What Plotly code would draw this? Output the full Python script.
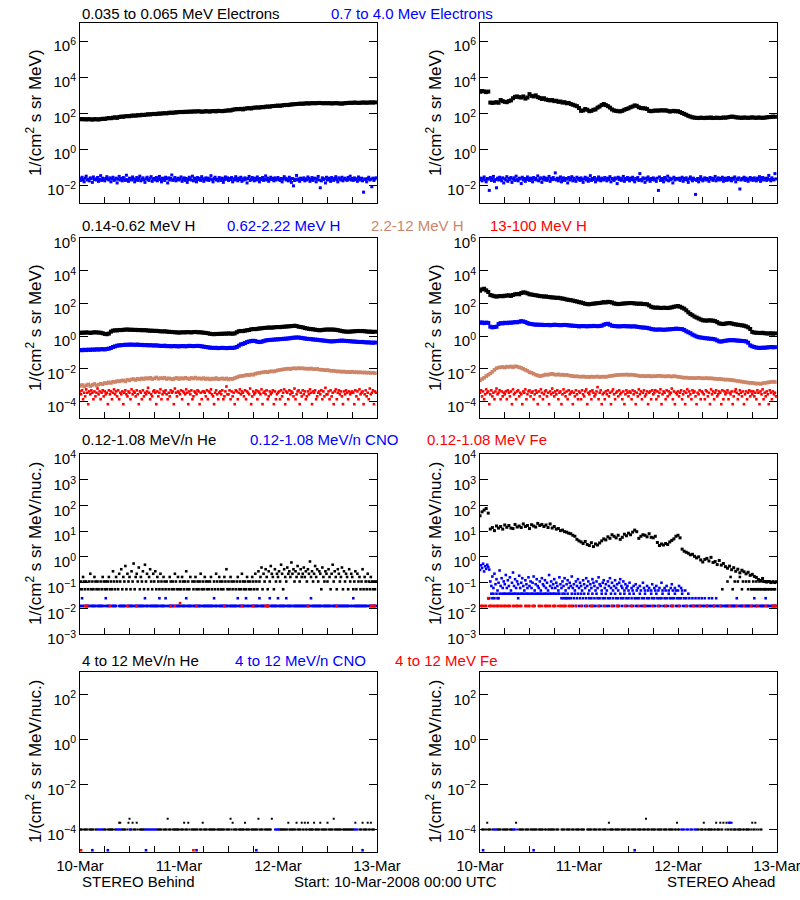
import pandas as pd
import plotly.graph_objects as go

START = "2008-03-10 00:00"
END = "2008-03-13 00:00"
t30 = pd.date_range(START, periods=144, freq="30min")   # 30-min bins
t15 = pd.date_range(START, periods=288, freq="15min")   # 15-min bins

# ---------------- Row 1: electrons (log10 values) ----------------
e_lo_B = [1.67,1.65,1.66,1.64,1.66,1.65,1.63,1.66,1.65,1.64,
          1.66,1.68,1.67,1.70,1.72,1.71,1.74,1.76,1.73,1.78,
          1.80,1.79,1.82,1.83,1.82,1.85,1.86,1.85,1.88,1.87,
          1.90,1.89,1.91,1.93,1.92,1.94,1.95,1.94,1.97,1.96,
          1.98,1.99,1.98,2.01,2.02,2.01,2.03,2.04,2.05,2.06,
          2.05,2.07,2.06,2.08,2.07,2.09,2.08,2.10,2.09,2.07,
          2.08,2.10,2.09,2.08,2.10,2.11,2.09,2.12,2.11,2.10,
          2.12,2.13,2.15,2.14,2.18,2.20,2.22,2.21,2.23,2.20,
          2.24,2.26,2.27,2.25,2.29,2.30,2.31,2.30,2.33,2.32,
          2.35,2.36,2.35,2.38,2.39,2.40,2.41,2.40,2.42,2.44,
          2.45,2.44,2.47,2.48,2.49,2.50,2.51,2.52,2.51,2.53,
          2.54,2.53,2.54,2.55,2.54,2.55,2.56,2.55,2.54,2.55,
          2.54,2.55,2.53,2.54,2.55,2.54,2.53,2.52,2.54,2.55,
          2.56,2.57,2.56,2.58,2.57,2.56,2.57,2.58,2.58,2.57,
          2.58,2.59,2.58,2.59]
e_lo_A = [3.18,3.22,3.20,3.16,3.19,2.58,2.56,2.58,2.60,2.57,
          2.72,2.66,2.62,2.60,2.66,2.70,2.82,2.90,2.92,2.88,
          2.86,2.92,2.80,2.86,3.05,2.95,2.92,2.98,2.88,2.84,
          2.78,2.82,2.75,2.72,2.70,2.72,2.66,2.68,2.62,2.64,
          2.58,2.60,2.54,2.56,2.50,2.46,2.42,2.38,2.28,2.12,
          2.14,2.22,2.18,2.10,2.12,2.18,2.20,2.30,2.36,2.44,
          2.50,2.44,2.38,2.30,2.20,2.14,2.12,2.10,2.09,2.12,
          2.18,2.22,2.26,2.32,2.36,2.42,2.40,2.32,2.28,2.26,
          2.26,2.22,2.12,2.10,2.12,2.14,2.13,2.14,2.15,2.14,
          2.15,2.12,2.08,2.10,2.12,2.09,2.10,2.05,2.00,1.95,
          1.90,1.84,1.80,1.76,1.74,1.73,1.72,1.74,1.73,1.72,
          1.74,1.73,1.75,1.72,1.73,1.74,1.72,1.73,1.75,1.74,
          1.76,1.78,1.80,1.79,1.76,1.75,1.74,1.73,1.75,1.74,
          1.73,1.74,1.76,1.74,1.73,1.75,1.74,1.73,1.74,1.76,
          1.77,1.78,1.80,1.79]
# 0.7-4.0 MeV electrons, units of 1e-3
e_hi_B = [22,18,27,20,15,24,31,19,21,17,25,23,14,28,20,22,19,26,16,21,33,18,24,20,
          17,23,29,21,19,25,15,22,27,18,20,24,13,21,30,19,23,17,26,22,18,35,20,16,
          24,21,19,28,22,15,20,26,18,23,31,17,21,25,19,14,22,27,20,18,24,29,16,21,
          23,19,26,17,22,30,20,15,24,21,18,27,22,13,25,19,23,36,18,21,26,17,20,24,
          19,22,28,16,21,25,18,23,14,20,27,22,19,31,17,24,21,15,26,20,23,18,29,22,
          16,21,25,19,24,18,22,33,20,15,23,27,19,21,17,26,22,18,24,14,20,28,21,25,
          18,23,20,26,15,22,19,29,21,17,24,20,27,16,22,19,25,21,13,23,30,18,20,26,
          22,17,24,19,28,21,15,23,20,26,18,22,32,19,24,16,21,27,20,23,17,25,19,22,
          26,20,18,23,15,21,29,24,19,22,17,27,20,14,23,9,18,21,34,19,22,16,24,20,
          21,25,17,22,19,28,23,16,20,26,18,22,24,15,21,30,19,7,17,25,20,22,13,27,
          19,24,21,16,26,22,18,23,29,20,15,25,21,19,27,17,22,24,20,18,26,21,31,19,
          23,18,25,20,22,16,28,21,19,24,17,4,22,20,15,23,27,19,21,8,24,18,22,25]
e_hi_A = [20,24,17,22,28,19,15,23,21,5,26,18,22,30,16,20,7,24,19,27,21,17,25,13,
          22,19,29,16,23,20,26,14,21,25,18,31,20,17,24,22,12,27,19,23,16,21,28,20,
          18,24,21,15,26,20,23,19,32,17,22,25,14,21,27,19,24,18,22,30,16,23,20,26,
          21,47,19,24,17,22,28,15,20,25,18,23,21,13,26,19,22,29,17,24,20,16,27,21,
          23,18,25,20,14,22,27,19,24,16,21,33,18,23,20,26,15,22,19,28,21,17,24,20,
          19,26,22,17,24,20,29,15,23,21,18,25,22,12,27,20,24,18,21,30,16,23,20,26,
          22,17,24,20,27,19,15,23,21,26,18,43,20,17,25,22,14,24,19,28,21,16,23,20,
          25,19,22,16,24,5,28,18,23,20,15,26,22,19,31,17,24,20,22,13,27,19,23,22,
          21,24,18,22,27,16,23,20,25,19,14,22,28,21,17,24,20,3,18,23,15,21,29,20,
          17,22,25,19,23,20,16,26,21,24,18,22,30,17,21,25,19,23,20,27,16,22,24,18,
          20,26,19,23,17,24,21,28,15,22,20,25,6,19,23,21,27,18,24,20,16,22,26,19,
          23,18,25,21,17,24,20,29,16,22,26,19,21,24,18,23,34,20,17,25,21,19,43,22]

# ---------------- Row 2: protons (log10 values) ----------------
H1_B = [0.20,0.22,0.21,0.23,0.22,0.20,0.22,0.24,0.23,0.22,
        0.21,0.18,0.14,0.12,0.16,0.28,0.34,0.36,0.35,0.38,
        0.37,0.39,0.40,0.41,0.39,0.40,0.38,0.39,0.37,0.38,
        0.36,0.37,0.36,0.35,0.33,0.34,0.32,0.33,0.31,0.30,
        0.29,0.30,0.28,0.27,0.26,0.25,0.24,0.23,0.22,0.23,
        0.24,0.23,0.25,0.24,0.23,0.25,0.26,0.24,0.24,0.23,
        0.21,0.20,0.18,0.15,0.13,0.12,0.14,0.13,0.15,0.14,
        0.16,0.15,0.17,0.16,0.15,0.17,0.24,0.30,0.32,0.31,
        0.34,0.36,0.38,0.42,0.44,0.43,0.45,0.47,0.48,0.50,
        0.51,0.52,0.53,0.52,0.54,0.55,0.56,0.55,0.57,0.58,
        0.59,0.60,0.61,0.62,0.64,0.62,0.58,0.56,0.54,0.50,
        0.47,0.45,0.43,0.42,0.40,0.38,0.36,0.37,0.39,0.40,
        0.41,0.40,0.41,0.40,0.39,0.37,0.34,0.31,0.29,0.28,
        0.27,0.28,0.29,0.30,0.31,0.32,0.31,0.32,0.30,0.29,
        0.27,0.28,0.26,0.27]
H2_B = [-0.84,-0.86,-0.83,-0.85,-0.82,-0.84,-0.81,-0.83,-0.80,-0.82,
        -0.80,-0.79,-0.81,-0.78,-0.76,-0.72,-0.66,-0.62,-0.58,-0.56,
        -0.55,-0.54,-0.52,-0.53,-0.51,-0.52,-0.52,-0.53,-0.51,-0.54,
        -0.53,-0.55,-0.54,-0.56,-0.55,-0.56,-0.57,-0.56,-0.58,-0.59,
        -0.60,-0.58,-0.61,-0.60,-0.62,-0.61,-0.60,-0.62,-0.62,-0.61,
        -0.60,-0.62,-0.61,-0.59,-0.60,-0.61,-0.60,-0.59,-0.60,-0.62,
        -0.64,-0.66,-0.68,-0.70,-0.71,-0.72,-0.71,-0.73,-0.72,-0.71,
        -0.72,-0.73,-0.72,-0.71,-0.72,-0.70,-0.66,-0.58,-0.50,-0.47,
        -0.42,-0.36,-0.32,-0.30,-0.28,-0.30,-0.34,-0.36,-0.34,-0.30,
        -0.26,-0.24,-0.23,-0.22,-0.21,-0.20,-0.19,-0.18,-0.17,-0.16,
        -0.15,-0.14,-0.12,-0.10,-0.09,-0.08,-0.08,-0.10,-0.12,-0.14,
        -0.16,-0.17,-0.18,-0.20,-0.21,-0.22,-0.24,-0.25,-0.27,-0.28,
        -0.30,-0.31,-0.32,-0.31,-0.30,-0.29,-0.28,-0.27,-0.28,-0.29,
        -0.30,-0.31,-0.32,-0.33,-0.34,-0.35,-0.36,-0.35,-0.37,-0.38,
        -0.38,-0.39,-0.40,-0.39]
H3_B = [-3.04,-2.98,-3.08,-3.00,-2.95,-3.05,-2.98,-2.92,-3.02,-2.96,
        -2.90,-2.94,-2.86,-2.88,-2.82,-2.86,-2.78,-2.80,-2.74,-2.76,
        -2.72,-2.70,-2.76,-2.66,-2.70,-2.64,-2.62,-2.68,-2.60,-2.64,
        -2.58,-2.62,-2.56,-2.60,-2.54,-2.62,-2.58,-2.52,-2.60,-2.56,
        -2.58,-2.54,-2.62,-2.57,-2.60,-2.64,-2.58,-2.55,-2.62,-2.56,
        -2.60,-2.54,-2.58,-2.62,-2.55,-2.59,-2.53,-2.60,-2.57,-2.61,
        -2.56,-2.62,-2.58,-2.64,-2.59,-2.62,-2.56,-2.63,-2.60,-2.58,
        -2.62,-2.58,-2.64,-2.60,-2.62,-2.56,-2.52,-2.46,-2.44,-2.42,
        -2.40,-2.36,-2.38,-2.34,-2.36,-2.30,-2.26,-2.24,-2.22,-2.20,
        -2.18,-2.20,-2.16,-2.14,-2.16,-2.12,-2.08,-2.06,-2.04,-2.02,
        -2.00,-1.98,-2.01,-1.97,-1.96,-1.98,-1.95,-1.97,-1.96,-1.99,
        -1.98,-2.00,-1.97,-2.01,-2.02,-2.00,-2.04,-2.05,-2.06,-2.08,
        -2.07,-2.10,-2.12,-2.11,-2.14,-2.16,-2.15,-2.18,-2.16,-2.19,
        -2.18,-2.20,-2.17,-2.21,-2.19,-2.22,-2.20,-2.23,-2.21,-2.24,
        -2.22,-2.25,-2.23,-2.26]
H1_A = [2.78,2.86,2.90,2.80,2.70,2.52,2.48,2.44,2.42,2.44,
        2.46,2.44,2.47,2.48,2.50,2.46,2.52,2.56,2.58,2.56,
        2.64,2.68,2.66,2.62,2.56,2.55,2.52,2.50,2.48,2.45,
        2.44,2.42,2.43,2.40,2.38,2.37,2.36,2.34,2.35,2.32,
        2.30,2.28,2.24,2.22,2.20,2.18,2.14,2.12,2.08,2.06,
        2.02,1.98,1.96,1.95,1.97,1.99,2.00,2.02,2.03,2.05,
        2.08,2.06,2.10,2.08,2.06,2.00,1.98,1.96,1.97,1.99,
        2.00,2.01,2.02,2.03,2.02,2.00,1.99,1.98,1.99,1.97,
        1.96,1.95,1.88,1.80,1.76,1.74,1.75,1.73,1.72,1.74,
        1.73,1.72,1.74,1.76,1.80,1.82,1.84,1.80,1.74,1.68,
        1.58,1.46,1.36,1.28,1.20,1.14,1.08,1.02,0.97,0.96,
        0.95,0.97,0.96,0.95,0.92,0.86,0.78,0.76,0.74,0.77,
        0.79,0.80,0.78,0.74,0.72,0.70,0.68,0.66,0.64,0.60,
        0.54,0.44,0.26,0.22,0.21,0.20,0.19,0.21,0.18,0.17,
        0.16,0.18,0.15,0.17]
H2_A = [0.82,0.84,0.80,0.83,0.81,0.58,0.54,0.56,0.58,0.74,
        0.80,0.78,0.82,0.80,0.83,0.82,0.84,0.86,0.85,0.88,
        0.92,0.90,0.86,0.80,0.76,0.74,0.72,0.70,0.71,0.69,
        0.70,0.68,0.68,0.69,0.67,0.68,0.70,0.69,0.68,0.67,
        0.68,0.69,0.68,0.66,0.65,0.64,0.63,0.62,0.60,0.61,
        0.62,0.61,0.60,0.62,0.61,0.63,0.62,0.61,0.62,0.64,
        0.70,0.74,0.76,0.70,0.64,0.62,0.61,0.60,0.60,0.61,
        0.62,0.60,0.61,0.59,0.60,0.60,0.58,0.56,0.54,0.53,
        0.52,0.51,0.48,0.44,0.42,0.40,0.40,0.41,0.40,0.39,
        0.40,0.41,0.42,0.43,0.44,0.46,0.45,0.44,0.43,0.38,
        0.30,0.24,0.18,0.10,0.04,-0.02,-0.06,-0.08,-0.10,-0.12,
        -0.13,-0.15,-0.16,-0.17,-0.20,-0.26,-0.32,-0.33,-0.30,-0.28,
        -0.26,-0.24,-0.25,-0.24,-0.26,-0.27,-0.28,-0.29,-0.30,-0.32,
        -0.40,-0.56,-0.62,-0.66,-0.70,-0.71,-0.72,-0.70,-0.71,-0.69,
        -0.68,-0.66,-0.68,-0.67]
H3_A = [-2.70,-2.62,-2.54,-2.44,-2.36,-2.28,-2.18,-2.06,-1.96,-1.92,
        -1.90,-1.88,-1.92,-1.86,-1.88,-1.85,-1.90,-1.84,-1.86,-1.90,
        -1.94,-2.00,-2.06,-2.12,-2.20,-2.24,-2.30,-2.36,-2.40,-2.44,
        -2.42,-2.38,-2.34,-2.36,-2.32,-2.30,-2.34,-2.36,-2.33,-2.37,
        -2.35,-2.38,-2.36,-2.40,-2.42,-2.44,-2.46,-2.45,-2.47,-2.48,
        -2.46,-2.49,-2.48,-2.50,-2.47,-2.49,-2.48,-2.46,-2.50,-2.48,
        -2.47,-2.49,-2.46,-2.44,-2.42,-2.40,-2.38,-2.37,-2.36,-2.35,
        -2.36,-2.34,-2.37,-2.35,-2.36,-2.38,-2.40,-2.42,-2.44,-2.43,
        -2.45,-2.44,-2.43,-2.46,-2.44,-2.45,-2.43,-2.42,-2.44,-2.45,
        -2.46,-2.44,-2.45,-2.47,-2.44,-2.46,-2.48,-2.50,-2.52,-2.54,
        -2.53,-2.55,-2.56,-2.55,-2.57,-2.56,-2.54,-2.56,-2.58,-2.57,
        -2.56,-2.58,-2.57,-2.59,-2.60,-2.62,-2.61,-2.63,-2.64,-2.66,
        -2.65,-2.67,-2.68,-2.70,-2.72,-2.74,-2.76,-2.78,-2.80,-2.82,
        -2.84,-2.86,-2.85,-2.88,-2.90,-2.89,-2.92,-2.88,-2.86,-2.84,
        -2.82,-2.80,-2.78,-2.80]
# 13-100 MeV H, counts in units of 7e-5
H4_B = [6,4,7,2,5,3,8,5,1,6,4,7,5,2,6,3,5,9,4,6,2,5,7,3,
        6,4,5,1,7,4,6,2,5,8,4,6,3,7,2,5,4,6,1,5,7,4,3,6,
        5,2,8,4,6,5,3,7,4,1,6,5,2,7,3,5,4,6,10,5,2,4,3,6,
        7,5,1,6,3,5,8,2,4,6,5,7,4,2,5,3,7,5,6,1,9,5,3,6,
        5,4,7,2,6,5,4,8,5,1,6,4,7,2,3,6,5,4,7,6,1,5,2,6,
        6,5,3,7,2,6,5,8,4,3,1,5,7,4,2,5,6,4,7,2,3,6,12,4,
        4,7,2,6,3,5,1,7,6,2,5,8,4,6,5,3,7,2,6,5,4,9,1,3,
        6,4,5,7,2,6,5,4,8,1,5,6,4,7,2,3,6,4,5,7,1,6,2,4,
        5,6,2,7,3,5,8,1,6,5,2,7,4,6,5,3,9,2,4,6,7,1,5,3,
        7,4,6,2,3,6,4,8,5,1,6,5,7,2,3,5,6,4,7,2,6,3,10,4,
        4,6,2,7,3,5,1,6,8,2,5,7,4,6,3,1,6,4,7,5,2,6,4,5,
        6,5,1,7,3,6,2,8,4,5,6,1,4,7,3,5,2,9,4,5,7,1,6,5]
H4_A = [5,7,3,6,2,4,8,5,6,1,4,7,3,5,2,6,9,4,5,7,2,6,3,5,
        4,6,2,7,5,3,6,1,8,4,5,2,6,7,3,5,4,1,6,5,8,2,4,6,
        7,3,5,6,2,4,7,5,1,6,3,8,5,2,4,6,7,3,5,1,6,4,9,5,
        3,6,4,7,2,5,6,1,4,8,5,3,6,2,7,4,5,6,1,5,3,7,4,2,
        6,5,2,7,4,3,6,8,1,5,4,6,2,7,5,3,4,6,11,2,5,7,1,4,
        5,2,6,4,7,3,5,1,6,8,4,2,5,6,3,7,4,5,2,6,1,4,7,5,
        3,6,5,2,7,4,6,1,5,3,8,4,6,2,5,7,3,4,6,1,5,6,2,7,
        4,5,7,2,6,3,5,8,1,4,6,5,2,7,3,6,4,5,9,2,6,1,5,4,
        6,3,5,7,2,4,6,1,5,8,3,6,4,2,7,5,6,3,1,5,4,7,2,6,
        5,4,2,7,6,3,5,1,8,4,6,2,5,7,3,4,6,5,1,7,2,6,4,5,
        7,2,5,4,6,1,3,6,8,5,2,4,7,5,3,6,1,4,6,2,5,7,3,6,
        4,6,3,5,2,7,5,1,6,4,8,2,5,3,6,4,1,7,5,2,6,4,5,3]

# ---------------- Row 3: 0.12-1.08 MeV/n ions ----------------
# He (Behind), counts in units of 0.055
He_B = [1,2,1,3,2,1,2,0,1,2,4,1,2,1,3,2,1,2,1,0,2,1,3,2,
        1,2,1,2,3,1,2,1,5,2,1,3,2,1,4,2,6,1,3,2,8,1,4,2,
        3,1,5,2,10,1,3,4,2,7,1,3,2,5,1,9,2,4,1,3,6,2,1,4,
        2,5,1,3,2,1,4,2,1,3,2,1,2,0,1,3,2,1,2,1,4,2,1,3,
        1,2,1,3,2,1,2,5,1,2,1,3,0,2,1,2,3,1,2,1,2,4,1,2,
        1,3,2,1,2,1,2,3,1,0,2,1,4,2,1,3,2,1,2,1,3,2,6,1,
        2,1,3,2,1,2,0,1,2,3,1,2,1,4,2,1,2,1,3,2,1,2,1,3,
        2,1,4,2,1,5,2,3,7,1,4,2,6,3,1,5,2,8,4,3,1,6,2,4,
        3,5,2,9,4,1,6,3,2,7,4,5,3,11,4,6,2,5,3,8,4,2,6,3,
        4,7,3,5,2,6,4,12,3,5,2,4,8,3,6,2,5,4,1,7,3,2,5,4,
        2,6,3,1,4,9,2,5,3,1,6,4,2,3,7,1,5,2,4,3,1,6,2,4,
        3,1,2,5,1,4,2,3,1,2,6,1,3,2,1,4,2,1,3,2,1,2,1,2]
# CNO (Behind), counts in units of 0.0123
CNO_B = [1,1,2,1,1,0,1,1,1,1,0,1,1,1,1,1,0,1,1,1,1,1,1,0,
         1,2,1,1,1,1,0,1,1,1,1,1,0,0,1,1,1,1,1,1,1,0,1,1,
         1,1,1,1,0,1,1,1,1,1,1,1,1,1,1,2,1,1,1,0,1,1,1,1,
         1,1,1,1,1,2,1,1,1,1,1,2,1,0,1,1,1,1,1,1,0,1,1,1,
         1,1,0,1,1,1,1,2,1,1,1,1,1,0,1,1,1,1,1,1,1,1,0,1,
         1,1,1,1,1,1,1,1,1,1,2,1,1,1,0,1,1,1,1,1,1,1,1,1,
         0,1,1,1,1,1,1,1,1,2,1,1,1,1,1,1,1,2,1,1,1,0,1,1,
         1,1,1,1,1,1,2,1,1,1,1,1,0,1,1,1,2,1,1,1,1,1,1,1,
         2,1,1,1,1,1,1,1,2,1,1,1,1,1,0,1,1,1,1,1,1,1,1,1,
         1,1,1,1,1,1,1,1,2,1,1,1,1,1,1,1,1,1,1,0,1,1,1,1,
         1,1,1,1,0,1,1,1,1,1,1,1,1,1,1,1,1,1,1,1,1,1,0,1,
         1,2,1,1,1,1,1,1,1,1,1,1,1,1,1,0,1,1,1,1,1,1,1,1]
# Fe (Behind): sample hours and fluxes
Fe_B_hours = [1.25,1.5,1.75,7.25,11.5,13.75,22.0,23.0,24.25,28.25,35.0,39.25,42.0,
              45.0,45.25,45.5,45.75,55.25,62.25,70.5,71.0,71.25,71.5]
Fe_B_vals = [0.0123,0.0123,0.0123,0.0123,0.0123,0.0123,0.0123,0.0123,0.0158,0.0123,
             0.0123,0.0123,0.0123,0.0123,0.0123,0.0123,0.0123,0.0123,0.0123,0.0123,
             0.0123,0.0123,0.0123]
# He (Ahead), log10 values
He_A = [1.60,1.75,1.82,1.88,1.70,1.08,1.14,1.02,1.20,1.12,
        1.18,1.08,1.24,1.15,1.22,1.12,1.10,1.26,1.16,1.20,
        1.14,1.28,1.18,1.22,1.10,1.25,1.20,1.16,1.30,1.22,
        1.26,1.18,1.24,1.14,1.28,1.12,1.18,1.08,1.10,1.02,
        1.04,0.98,0.96,0.92,0.90,0.84,0.80,0.68,0.62,0.58,
        0.52,0.60,0.48,0.44,0.55,0.40,0.50,0.46,0.54,0.62,
        0.70,0.66,0.78,0.72,0.86,0.80,0.74,0.84,0.68,0.76,
        0.88,0.82,0.92,0.86,0.96,1.04,0.98,0.72,0.80,0.86,
        0.84,0.78,0.90,0.76,0.74,0.80,0.56,0.44,0.50,0.46,
        0.52,0.48,0.58,0.64,0.70,0.80,0.84,0.74,0.30,0.22,
        0.18,0.14,0.08,0.10,0.02,-0.04,0.00,-0.12,-0.20,-0.10,
        -0.06,-0.16,-0.02,-0.22,-0.18,-0.30,-0.14,-0.32,-0.26,-0.38,
        -0.44,-0.36,-0.50,-0.42,-0.56,-0.48,-0.62,-0.52,-0.58,-0.66,
        -0.60,-0.72,-0.68,-0.76,-0.80,-0.88,-0.92,-0.84,-0.96,-0.98,
        -0.96,-1.00,-0.98,-1.00]
# He (Ahead) low-count samples, units of 0.055
He_A_low = [0]*216 + [
        0,0,0,0,0,0,0,0,0,0,0,0,0,0,0,0,0,0,0,1,0,0,0,0,
        2,0,0,3,0,1,0,2,0,0,2,0,3,0,1,2,0,0,2,0,1,2,0,1,
        1,2,1,1,2,1,1,2,1,1,2,1,1,1,2,1,1,2,1,1,2,1,1,2]
# CNO (Ahead), units of 0.0123: scattered samples and low-count samples
CNO_A_hi = [25,38,30,44,22,35,28,40,33,26,9,6,14,5,18,7,11,4,8,24,6,12,5,9,
            7,16,5,10,6,13,4,8,20,6,11,5,9,7,15,5,8,12,6,4,10,7,5,13,
            6,9,5,8,14,4,7,11,6,5,9,4,12,7,6,10,5,8,4,16,6,9,5,7,
            11,5,8,6,4,13,7,5,9,6,12,4,7,10,5,8,6,14,5,7,4,9,6,11,
            5,8,6,4,10,7,5,12,6,9,4,7,5,11,8,6,4,9,5,13,7,6,4,8,
            10,5,7,4,9,6,12,5,8,4,6,10,5,7,4,8,11,6,5,9,4,7,5,6,
            4,8,0,5,4,6,0,7,4,5,0,6,4,0,8,5,4,0,6,4,5,0,4,7,
            0,5,4,6,0,4,5,0,8,4,0,5,4,6,0,4,0,5,7,4,0,5,4,0,
            4,6,0,5,4,0,0,4] + [0]*88
CNO_A_low = [0,0,0,0,0,0,0,0,2,2,0,3,2,3,2,0,3,2,2,3,0,3,0,3,
             3,0,3,0,3,3,0,3,0,3,3,0,3,2,3,0,3,3,0,3,0,3,3,0,
             3,0,3,3,0,3,0,3,3,0,3,3,0,3,0,3,3,0,3,0,3,3,0,3,
             3,0,3,0,3,3,0,2,3,2,3,2,2,3,2,0,2,3,1,2,3,1,2,3,
             1,2,3,1,2,3,1,2,1,3,2,1,2,3,1,2,1,3,2,1,2,1,3,2,
             1,2,3,1,2,1,2,3,1,2,1,3,2,1,2,1,3,2,1,2,3,1,2,1,
             2,3,1,2,1,3,2,1,2,1,2,3,1,2,1,2,3,1,2,1,2,1,3,2,
             1,2,1,3,2,1,2,1,2,3,1,2,1,2,1,3,2,1,2,1,2,3,1,2,
             1,2,1,2,3,1,2,1,2,1,3,2,1,1,2,1,1,2,1,1,2,1,1,2,
             1,1,2,1,1,1,2,1,1,2,1,1,1,2,1,1,0,1,1,1,0,1,1,1,
             1,1,0,1,1,1,1,1,1,2,1,0,1,1,1,1,0,1,1,1,1,1,1,0,
             1,1,2,1,1,1,0,1,1,1,1,1,1,2,1,1,1,0,1,1,1,1,1,1]
# Fe (Ahead), units of 0.0123
Fe_A = [0,1,1,1,0,1,1,0,2,1,1,1,0,1,1,0,1,1,1,0,1,1,0,1,
        1,1,0,1,1,1,0,0,1,1,0,1,1,1,0,1,1,0,0,0,1,1,0,1,
        1,0,0,1,1,1,0,0,0,1,1,0,1,0,0,1,1,1,0,1,1,0,0,1,
        1,1,0,0,1,0,1,1,0,1,1,1,0,0,1,1,0,1,0,0,0,1,0,0,
        0,0,1,0,0,0,0,1,0,0,0,0,1,1,0,0,0,0,0,1,0,0,0,0,
        0,1,0,0,0,0,0,0,1,0,0,0,0,1,1,0,0,0,0,0,0,1,0,0,
        0,0,0,1,0,0,0,0,0,0,1,0,0,0,0,1,1,0,0,0,0,0,0,1,
        0,0,0,0,0,1,0,0,0,0,0,0,1,0,0,0,0,0,1,1,0,0,0,0,
        0,1,0,0,0,0,0,0,1,0,0,0,0,0,0,1,0,0,0,0,0,1,0,0,
        0,0,0,0,1,0,0,0,0,0,0,1,0,0,0,0,0,1,0,0,0,0,0,0,
        0,0,1,0,0,0,0,0,0,1,0,0,0,0,0,0,1,0,0,0,0,0,0,1,
        0,0,0,0,0,1,0,0,0,0,0,0,0,1,0,0,0,0,0,0,1,1,1,1]

# ---------------- Row 4: 4-12 MeV/n ions ----------------
# He, counts in units of 1e-4
He4_B = [1,1,1,0,1,1,1,1,0,1,1,1,1,1,0,1,1,0,0,0,0,0,0,1,
         1,1,0,1,1,1,1,1,1,0,1,0,0,0,2,2,0,1,1,1,1,0,1,2,
         3,1,1,2,1,1,1,2,1,0,1,1,1,1,1,0,0,0,0,0,0,0,0,0,
         0,0,0,1,1,1,1,1,0,1,1,1,1,3,1,1,1,0,1,1,1,1,1,1,
         1,0,1,1,1,2,1,1,1,2,1,0,1,1,1,1,1,1,1,0,1,1,1,2,
         1,1,1,1,0,1,1,1,1,1,1,1,0,1,1,1,1,1,1,1,1,0,1,1,
         1,1,3,1,2,1,1,1,1,0,1,1,1,1,1,1,2,1,1,1,1,0,1,1,
         1,1,1,1,1,3,1,1,1,1,0,1,1,1,1,1,1,1,3,0,0,0,0,0,
         0,0,1,1,1,1,1,1,1,1,2,1,1,1,1,1,1,1,2,1,1,1,1,2,
         1,1,2,1,1,2,1,1,1,1,1,2,1,1,1,1,1,2,1,1,1,1,1,1,
         2,1,1,1,1,1,3,1,1,1,1,1,1,1,0,1,1,1,1,1,1,1,1,1,
         1,1,0,2,0,0,0,1,1,1,2,1,1,1,1,2,1,1,2,1,1,1,0,0]
He4_A = [0,0,1,1,1,0,1,2,1,1,1,0,1,0,0,0,0,1,1,1,1,0,1,1,
         1,1,1,1,0,1,1,1,0,0,0,2,0,0,1,1,1,1,1,0,1,1,1,1,
         0,1,1,1,1,1,1,1,0,1,1,1,1,1,0,1,1,0,1,1,1,1,1,1,
         1,0,1,1,1,0,0,1,1,1,1,0,1,1,1,1,0,1,1,1,0,1,1,1,
         1,0,1,1,1,1,0,0,1,1,1,1,1,0,1,1,1,1,0,1,1,1,0,1,
         1,1,1,0,1,2,1,1,1,1,0,1,1,1,1,1,0,1,1,1,1,1,0,1,
         1,1,0,1,1,1,1,1,0,1,1,1,1,0,1,1,1,3,1,1,1,0,1,1,
         1,1,1,0,1,1,1,1,1,0,1,1,1,1,0,1,1,1,1,1,0,1,1,2,
         1,1,0,0,0,0,0,0,0,0,0,0,0,0,0,0,0,0,0,1,1,0,1,1,
         1,2,1,1,0,1,1,1,1,1,0,1,1,2,1,1,1,2,1,1,2,0,1,2,
         1,1,2,1,1,0,1,1,1,0,1,1,1,1,0,1,1,0,1,1,1,1,0,1,
         2,1,1,2,1,0,1,0,1,1,0,0,0,0,0,0,0,0,0,0,0,0,0,0]
# CNO / Fe: 15-min sample indices at the given flux levels
CNO4_B_idx_1e4 = [17,18,19,20,21,22,35,36,37,38,39,40,48,49,63,64,65,66,67,68,69,70,71,72,73,74,
                  189,190,191,192,193,266,267,268,269]
CNO4_B_idx_low = [12,27,64,113,171,274]
Fe4_B_idx_low = [1,110]
CNO4_A_idx_1e4 = [13,14,15,16,32,33,34,36,195,196,197,198,200,201,202,204,205,206,208,209,210]
CNO4_A_idx_2e4 = [241,242,243,244]
CNO4_A_idx_low = [3,52,150]

BLACK = "#000000"; BLUE = "#0000ff"; TAN = "#cd8568"; RED = "#ff0000"
FONT = "Liberation Sans"

fig = go.Figure()


def ax(p):
    return ("x" if p == 1 else f"x{p}"), ("y" if p == 1 else f"y{p}")


def add_pts(p, xs, ys, color, size):
    xa, ya = ax(p)
    fig.add_trace(go.Scatter(x=xs, y=ys, mode="markers", xaxis=xa, yaxis=ya,
                             marker=dict(symbol="square", size=size, color=color, line=dict(width=0)),
                             showlegend=False, hoverinfo="skip"))


def add_log(p, logs, color, size, times=t30):
    add_pts(p, list(times[:len(logs)]), [10 ** v for v in logs], color, size)


def add_counts(p, counts, unit, color, size):
    xs = [t for t, n in zip(t15, counts) if n > 0]
    ys = [n * unit for n in counts[:len(t15)] if n > 0]
    add_pts(p, xs, ys, color, size)


def add_idx(p, idx, val, color, size):
    add_pts(p, [t15[i] for i in idx], [val] * len(idx), color, size)


# Row 1
add_log(1, e_lo_B, BLACK, 4)
add_counts(1, e_hi_B, 1e-3, BLUE, 3)
add_log(2, e_lo_A, BLACK, 4)
add_counts(2, e_hi_A, 1e-3, BLUE, 3)
# Row 2
for p, s1, s2, s3, s4 in [(3, H1_B, H2_B, H3_B, H4_B), (4, H1_A, H2_A, H3_A, H4_A)]:
    add_log(p, s1, BLACK, 4)
    add_log(p, s2, BLUE, 4)
    add_log(p, s3, TAN, 3.6)
    add_counts(p, s4, 7e-5, RED, 2.6)
# Row 3
add_counts(5, He_B, 0.055, BLACK, 2.6)
add_counts(5, CNO_B, 0.0123, BLUE, 2.6)
fe_t = [pd.Timestamp(START) + pd.Timedelta(hours=h) for h in Fe_B_hours]
add_pts(5, fe_t, Fe_B_vals, RED, 2.6)
add_log(6, He_A, BLACK, 3)
add_counts(6, He_A_low, 0.055, BLACK, 2.6)
add_counts(6, CNO_A_hi, 0.0123, BLUE, 2.6)
add_counts(6, CNO_A_low, 0.0123, BLUE, 2.6)
add_counts(6, Fe_A, 0.0123, RED, 2.6)
# Row 4
add_counts(7, He4_B, 1e-4, BLACK, 2)
add_idx(7, CNO4_B_idx_1e4, 1e-4, BLUE, 2)
add_idx(7, CNO4_B_idx_low, 1.2e-5, BLUE, 2.6)
add_idx(7, Fe4_B_idx_low, 1.2e-5, RED, 2.6)
add_counts(8, He4_A, 1e-4, BLACK, 2)
add_idx(8, CNO4_A_idx_1e4, 1e-4, BLUE, 2)
add_idx(8, CNO4_A_idx_2e4, 2e-4, BLUE, 2)
add_idx(8, CNO4_A_idx_low, 1.2e-5, BLUE, 2.6)

# ---------------- Layout ----------------
W, H = 800, 900
cols_px = [(80, 377), (480, 777)]
rows_px = [(23, 203), (238, 418), (454, 634), (672, 852)]
yranges = [(-3, 7), (-5, 6), (-3, 4), (-5, 3)]
yexps = [[-2, 0, 2, 4, 6], [-4, -2, 0, 2, 4, 6], [-3, -2, -1, 0, 1, 2, 3, 4], [-4, -2, 0, 2]]


def sup(e):
    return "10<sup>" + (str(e) if e >= 0 else "\u2212" + str(-e)) + "</sup>"


layout = dict(width=W, height=H, margin=dict(l=0, r=0, t=0, b=0),
              paper_bgcolor="white", plot_bgcolor="white",
              font=dict(family=FONT, size=15, color="black"), showlegend=False)
for r in range(4):
    for c in range(2):
        p = r * 2 + c + 1
        xk = "xaxis" if p == 1 else f"xaxis{p}"
        yk = "yaxis" if p == 1 else f"yaxis{p}"
        x0, x1 = cols_px[c]
        y0, y1 = rows_px[r]
        layout[xk] = dict(domain=[x0 / W, x1 / W], anchor=ax(p)[1], type="date",
                          range=[START, END], showline=True, mirror=True, linecolor="black",
                          linewidth=1, ticks="inside", ticklen=6, tickcolor="black",
                          tick0=START, dtick=86400000, tickformat="%d-%b",
                          showticklabels=(r == 3), ticklabeloverflow="allow",
                          tickfont=dict(size=15, family=FONT),
                          showgrid=False, zeroline=False, automargin=False,
                          minor=dict(dtick=21600000, tick0=START, ticks="inside", ticklen=6,
                                     tickcolor="black", showgrid=False))
        lo, hi = yranges[r]
        layout[yk] = dict(domain=[1 - y1 / H, 1 - y0 / H], anchor=ax(p)[0], type="log",
                          range=[lo, hi], tickvals=[10 ** e for e in yexps[r]],
                          ticktext=[sup(e) for e in yexps[r]], ticks="inside", ticklen=8,
                          tickcolor="black", showline=True, mirror="ticks", linecolor="black",
                          linewidth=1, showgrid=False, zeroline=False, automargin=False,
                          ticklabelshift=5, ticklabeloverflow="allow",
                          tickfont=dict(size=15, family=FONT))

ann = []


def label(text, xpx, ypx, color="black", anchor="left", angle=0, size=15):
    ann.append(dict(text=text, x=xpx / W, y=1 - ypx / H, xref="paper", yref="paper",
                    xanchor=anchor, yanchor="middle", showarrow=False, textangle=angle,
                    font=dict(family=FONT, size=size, color=color)))


# row titles
label("0.035 to 0.065 MeV Electrons", 80, 13)
label("0.7 to 4.0 Mev Electrons", 329, 13, BLUE)
label("0.14-0.62 MeV H", 80, 226)
label("0.62-2.22 MeV H", 225, 226, BLUE)
label("2.2-12 MeV H", 369, 226, TAN)
label("13-100 MeV H", 488, 226, RED)
label("0.12-1.08 MeV/n He", 80, 439)
label("0.12-1.08 MeV/n CNO", 248, 439, BLUE)
label("0.12-1.08 MeV Fe", 425, 439, RED)
label("4 to 12 MeV/n He", 80, 660)
label("4 to 12 MeV/n CNO", 233, 660, BLUE)
label("4 to 12 MeV Fe", 393, 660, RED)
# y-axis titles
for r in range(4):
    unit = "1/(cm<sup>2</sup> s sr MeV)" if r < 2 else "1/(cm<sup>2</sup> s sr MeV/nuc.)"
    yc = (rows_px[r][0] + rows_px[r][1]) / 2
    for xc in (34, 434):
        label(unit, xc, yc, anchor="center", angle=-90, size=17)
# footer
label("STEREO Behind", 80, 881)
label("Start: 10-Mar-2008 00:00 UTC", 292, 881)
label("STEREO Ahead", 777, 881, anchor="right")

layout["annotations"] = ann
fig.update_layout(**layout)
fig.write_html("out.html", config={"displayModeBar": False})
